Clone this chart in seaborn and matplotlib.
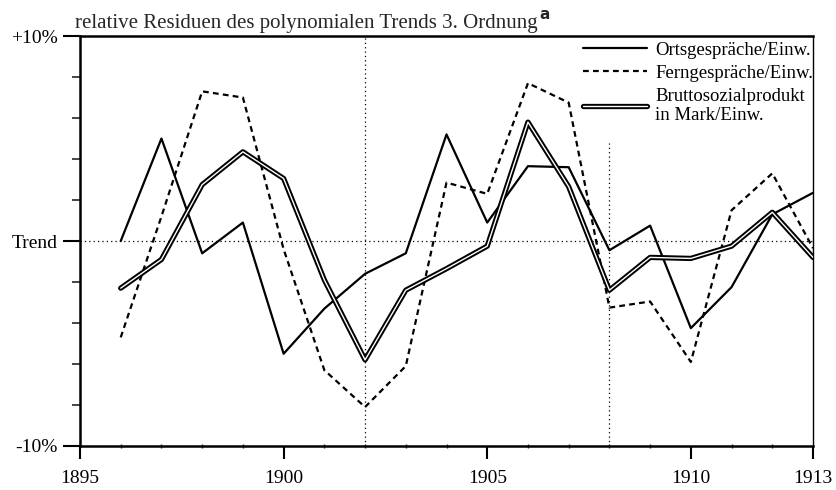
import numpy as np
import pandas as pd
import matplotlib
matplotlib.use("Agg")
import matplotlib.pyplot as plt
import matplotlib.patheffects as pe
from matplotlib.ticker import MultipleLocator
import seaborn as sns

# data (residuals in %)
years = list(range(1896, 1914))
orts = [0.0, 5.0, -0.6, 0.9, -5.5, -3.3, -1.6, -0.6, 5.2, 0.9,
        3.65, 3.6, -0.45, 0.75, -4.25, -2.25, 1.3, 2.35]
fern = [-4.7, 1.2, 7.3, 7.0, -0.4, -6.3, -8.1, -6.1, 2.85, 2.3,
        7.7, 6.75, -3.25, -2.95, -5.9, 1.5, 3.3, -0.35]
bsp = [-2.3, -0.9, 2.75, 4.35, 3.05, -1.9, -5.8, -2.4, -1.35, -0.25,
       5.8, 2.65, -2.4, -0.8, -0.85, -0.25, 1.4, -0.8]

labels = ["Ortsgespräche/Einw.", "Ferngespräche/Einw.",
          "Bruttosozialprodukt\nin Mark/Einw."]
xtick_vals = [1895, 1900, 1905, 1910, 1913]
ytick_vals = [-10, 0, 10]
ytick_labels = ["-10%", "Trend", "+10%"]

df = pd.DataFrame({"Jahr": years, "orts": orts, "fern": fern, "bsp": bsp})

sns.set_style("ticks")
plt.rcParams["font.family"] = ["Liberation Serif", "DejaVu Serif"]

fig = plt.figure(figsize=(8.36, 4.9), dpi=100)
ax = fig.add_axes([0.0957, 0.0898, 0.8768, 0.8367])

# reference lines
ax.axhline(0, color="black", lw=0.9, ls=(0, (1, 2.5)), zorder=1)
ax.axvline(1902, color="black", lw=0.9, ls=(0, (1, 2.5)), zorder=1)
ax.vlines(1908, -10, 4.8, color="black", lw=0.9, ls=(0, (1, 2.5)), zorder=1)

sns.lineplot(data=df, x="Jahr", y="orts", ax=ax, color="black", lw=1.6,
             label=labels[0], zorder=3)
sns.lineplot(data=df, x="Jahr", y="fern", ax=ax, color="black", lw=1.6,
             dashes=False, label=labels[1], zorder=3)
ax.lines[-1].set_linestyle((0, (2.6, 1.9)))
sns.lineplot(data=df, x="Jahr", y="bsp", ax=ax, color="white", lw=1.0,
             label=labels[2], zorder=4)
ax.lines[-1].set_path_effects([pe.Stroke(linewidth=3.8, foreground="black"),
                               pe.Normal()])

ax.set_xlim(1895, 1913)
ax.set_ylim(-10, 10)
ax.set_xticks(xtick_vals)
ax.set_xticklabels([str(v) for v in xtick_vals])
ax.xaxis.set_minor_locator(MultipleLocator(1))
ax.set_yticks(ytick_vals)
ax.set_yticklabels(ytick_labels)
ax.yaxis.set_minor_locator(MultipleLocator(2))
ax.set_xlabel("")
ax.set_ylabel("")

ax.tick_params(axis="both", which="major", direction="out",
               width=1.5, labelsize=14, colors="black")
ax.tick_params(axis="y", which="major", length=12, pad=4)
ax.tick_params(axis="x", which="major", length=9, pad=8)
ax.tick_params(axis="y", which="minor", direction="out", length=5.5, width=1.2)
ax.tick_params(axis="x", which="minor", direction="inout", length=3, width=1.0)

for side in ["left", "bottom", "top"]:
    ax.spines[side].set_linewidth(1.8)
    ax.spines[side].set_color("black")
ax.spines["right"].set_visible(True)
ax.spines["right"].set_linewidth(1.0)
ax.spines["right"].set_color("black")

leg = ax.legend(loc="upper right", bbox_to_anchor=(1.008, 1.0), frameon=False,
                fontsize=13.5, handlelength=3.4, handletextpad=0.45,
                labelspacing=0.32, borderaxespad=0.0, borderpad=0.3)
for t in leg.get_texts():
    t.set_color("black")

title = ax.text(-0.007, 1.008, "relative Residuen des polynomialen Trends 3. Ordnung",
                transform=ax.transAxes, fontsize=15, ha="left", va="bottom")
ax.annotate("a", xy=(1, 0.55), xycoords=title, xytext=(1.0, 0),
            textcoords="offset points", fontsize=11, fontweight="bold",
            family="DejaVu Sans", ha="left", va="bottom")

fig.savefig("out.png", dpi=100)
